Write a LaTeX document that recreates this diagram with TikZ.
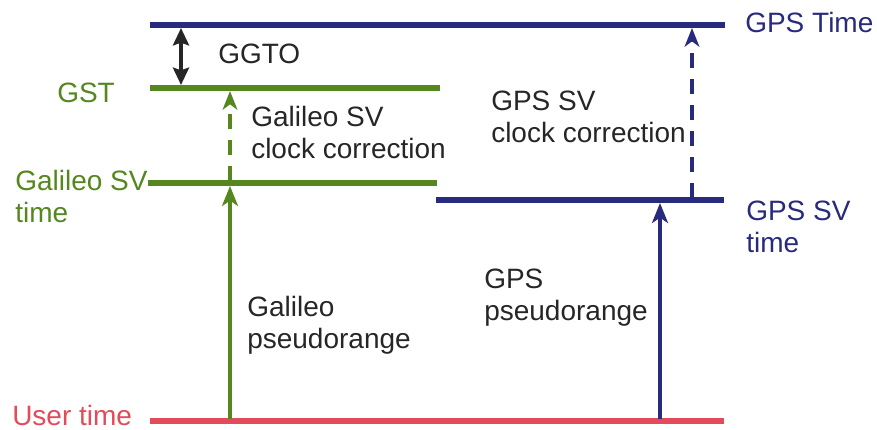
\documentclass[tikz,border=0pt]{standalone}
\usepackage{fontspec}
\setmainfont{Liberation Sans}
\usetikzlibrary{arrows.meta}
\definecolor{gpsnavy}{RGB}{40,42,125}
\definecolor{galgreen}{RGB}{85,135,30}
\definecolor{userred}{RGB}{225,75,90}
\tikzset{
  bar/.style={line width=4.5pt},
  lbl/.style={anchor=base west,inner sep=0pt,align=left,font=\fontsize{21}{23.6}\selectfont},
  prange/.style={line width=2.5pt,-{Stealth[length=15pt,width=12pt,inset=4pt]}},
  clockcorr/.style={line width=3pt,dash pattern=on 11.5pt off 8pt,-{Stealth[length=14pt,width=11pt,inset=4pt]}},
}
\begin{document}
\begin{tikzpicture}[x=0.75pt,y=-0.75pt]
\useasboundingbox (0,0) rectangle (877,429);
% bar end coordinates
\coordinate (gpsL) at (150,25);   \coordinate (gpsR) at (725,25);
\coordinate (gstL) at (150,88);   \coordinate (gstR) at (440,88);
\coordinate (galL) at (148,183);  \coordinate (galR) at (437,183);
\coordinate (gsvL) at (436,200);  \coordinate (gsvR) at (724,200);
\coordinate (usrL) at (150,421);  \coordinate (usrR) at (724,421);
% bars
\draw[bar,gpsnavy] (gpsL) -- (gpsR);
\draw[bar,galgreen] (gstL) -- (gstR);
\draw[bar,galgreen] (galL) -- (galR);
\draw[bar,gpsnavy] (gsvL) -- (gsvR);
\draw[bar,userred] (usrL) -- (usrR);
% arrow end points
\coordinate (ggtoT) at (181,28);  \coordinate (ggtoB) at (181,85);
\coordinate (gccB) at (230,181);  \coordinate (gccT) at (230,91);
\coordinate (gprB) at (230,419);  \coordinate (gprT) at (230,186);
\coordinate (pccB) at (692,198);  \coordinate (pccT) at (692,28);
\coordinate (pprB) at (660,419);  \coordinate (pprT) at (660,203);
% arrows
\draw[line width=3pt,black!85,{Stealth[length=13pt,width=12pt,inset=2pt]}-{Stealth[length=13pt,width=12pt,inset=2pt]}] (ggtoT) -- (ggtoB);
\draw[clockcorr,galgreen] (gccB) -- (gccT);
\draw[prange,galgreen] (gprB) -- (gprT);
\draw[clockcorr,gpsnavy] (pccB) -- (pccT);
\draw[prange,gpsnavy] (pprB) -- (pprT);
% labels (base = baseline of last line)
\node[lbl,gpsnavy] (tGPS) at (745,32) {GPS Time};
\node[lbl,black!85] (tGGTO) at (218,63) {GGTO};
\node[lbl,galgreen] (tGST) at (57,102) {GST};
\node[lbl,black!85] (tGalCC) at (251,158) {Galileo SV\\clock correction};
\node[lbl,black!85] (tGpsCC) at (491,142) {GPS SV\\clock correction};
\node[lbl,galgreen] (tGalSV) at (15,222) {Galileo SV\\time};
\node[lbl,gpsnavy] (tGpsSV) at (746,252) {GPS SV\\time};
\node[lbl,black!85] (tGalPR) at (247,348) {Galileo\\pseudorange};
\node[lbl,black!85] (tGpsPR) at (484,320) {GPS\\pseudorange};
\node[lbl,userred] (tUser) at (12,425) {User time};
\end{tikzpicture}
\end{document}
